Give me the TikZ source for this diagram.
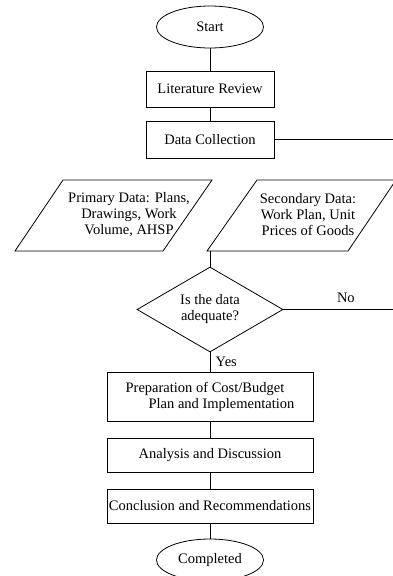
\documentclass[tikz,border=0pt]{standalone}
\usepackage{fontspec}
\setmainfont{Liberation Serif}
\usetikzlibrary{shapes.geometric}
\begin{document}
\begin{tikzpicture}[x=1pt,y=-1pt,
  every node/.style={font=\fontsize{14.5}{16}\selectfont},
  box/.style={draw,line width=0.8pt,rectangle,inner sep=0pt,align=center},
  term/.style={draw,line width=0.8pt,ellipse,minimum width=107pt,minimum height=42pt,inner sep=0pt},
  dec/.style={draw,line width=0.8pt,diamond,minimum width=146pt,minimum height=85pt,inner sep=0pt,aspect=1.7,align=center},
  conn/.style={line width=0.8pt},
  para/.style={line width=0.8pt}]
\useasboundingbox (0,0) rectangle (393,576);
% nodes
\node[term] (start) at (210,27) {Start};
\node[box,minimum width=128pt,minimum height=36pt] (lit) at (210,89) {Literature Review};
\node[box,minimum width=128pt,minimum height=37pt] (dc) at (210,139.5) {Data Collection};
\coordinate (dcend) at (393,139.5);
% parallelograms
\draw[para] (63,180) coordinate (p1) -- (212,180) -- (163,251) -- (15,251) -- cycle;
\node[align=center] (prim) at (129,215) {Primary Data: Plans,\\Drawings, Work\\Volume, AHSP};
\draw[para] (257,180) -- (396,180) -- (348,251) -- (207,251) -- cycle;
\node[align=center] (sec) at (308,215) {Secondary Data:\\Work Plan, Unit\\Prices of Goods};
\coordinate (secb) at (210,251);
\node[dec] (q) at (210,309.5) {Is the data\\adequate?};
\coordinate (noend) at (393,309.5);
\node[box,minimum width=206pt,minimum height=49pt,align=left] (prep) at (210,396.5) {Preparation of Cost/Budget\\\hspace*{23pt}Plan and Implementation};
\node[box,minimum width=206pt,minimum height=34pt] (ana) at (210,455) {Analysis and Discussion};
\node[box,minimum width=206pt,minimum height=34pt] (con) at (210,506) {Conclusion and Recommendations};
\node[term] (end) at (210,560) {Completed};
% connectors
\draw[conn] (start) -- (lit);
\draw[conn] (lit) -- (dc);
\draw[conn] (dc) -- (dcend);
\draw[conn] (secb) -- (q.north);
\draw[conn] (q.east) -- node[above=3pt,pos=0.57] {No} (noend);
\draw[conn] (q.south) -- node[right=2pt] {Yes} (prep.north);
\draw[conn] (prep) -- (ana);
\draw[conn] (ana) -- (con);
\draw[conn] (con) -- (end);
\end{tikzpicture}
\end{document}
